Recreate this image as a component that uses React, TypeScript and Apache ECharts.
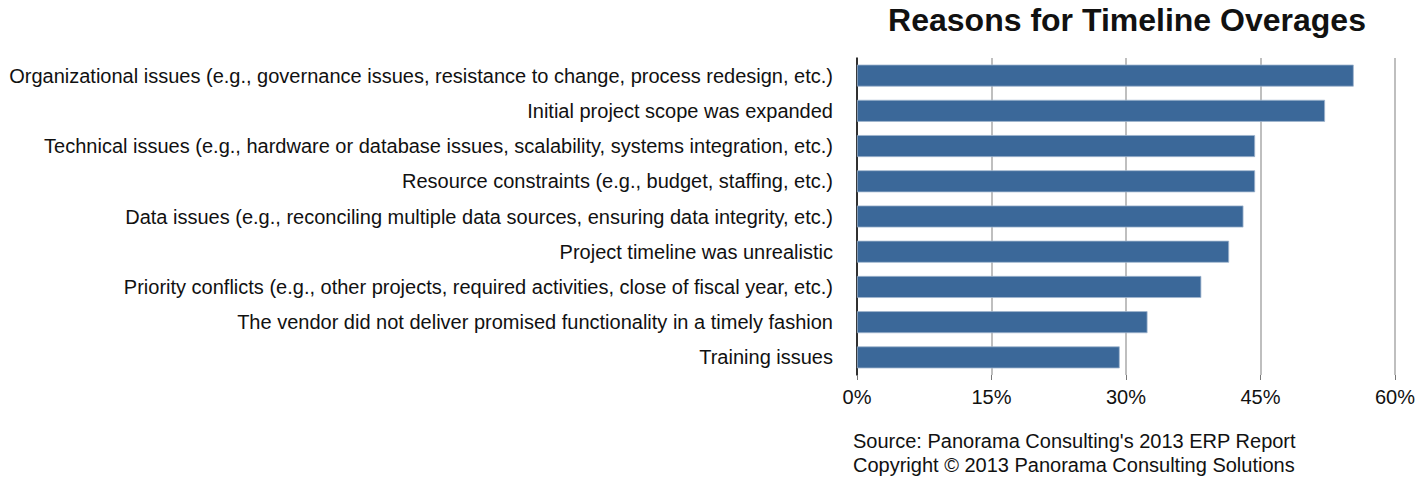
import React, { useEffect, useRef } from "react";
import * as echarts from "echarts";

const categories = [
  "Organizational issues (e.g., governance issues, resistance to change, process redesign, etc.)",
  "Initial project scope was expanded",
  "Technical issues (e.g., hardware or database issues, scalability, systems integration, etc.)",
  "Resource constraints (e.g., budget, staffing, etc.)",
  "Data issues (e.g., reconciling multiple data sources, ensuring data integrity, etc.)",
  "Project timeline was unrealistic",
  "Priority conflicts (e.g., other projects, required activities, close of fiscal year, etc.)",
  "The vendor did not deliver promised functionality in a timely fashion",
  "Training issues",
];
const values = [55.4, 52.2, 44.4, 44.4, 43.1, 41.5, 38.4, 32.4, 29.3];
const xTicks = [0, 15, 30, 45, 60];
const titleText = "Reasons for Timeline Overages";
const sourceLines = [
  "Source: Panorama Consulting's 2013 ERP Report",
  "Copyright © 2013 Panorama Consulting Solutions",
];

const FONT = "'Liberation Sans', Arial, Helvetica, sans-serif";

export default function App() {
  const ref = useRef<HTMLDivElement>(null);
  useEffect(() => {
    if (!ref.current) return;
    const chart = echarts.init(ref.current, undefined, { renderer: "svg" });
    chart.setOption({
      animation: false,
      backgroundColor: "#ffffff",
      title: {
        text: titleText,
        left: 1127,
        textAlign: "center",
        top: 6,
        padding: 0,
        textStyle: { fontFamily: FONT, fontSize: 32, lineHeight: 28, fontWeight: "bold", color: "#111" },
      },
      graphic: sourceLines.map((t, i) => ({
        type: "text",
        left: 853,
        top: 431 + i * 24,
        style: { text: t, font: `20px ${FONT}`, fill: "#111" },
      })),
      grid: { left: 857, right: 21, top: 58, bottom: 102, containLabel: false },
      xAxis: {
        type: "value",
        min: xTicks[0],
        max: xTicks[xTicks.length - 1],
        interval: 15,
        axisLine: { show: false },
        axisTick: { show: true, length: 5, lineStyle: { color: "#777" } },
        splitLine: { show: true, lineStyle: { color: "#aaa", width: 1.5 } },
        axisLabel: {
          formatter: (v: number) => `${v}%`,
          fontFamily: FONT,
          fontSize: 20,
          color: "#111",
          margin: 12,
        },
      },
      yAxis: {
        type: "category",
        data: categories,
        inverse: true,
        axisLine: { show: true, lineStyle: { color: "#000", width: 1.5 } },
        axisTick: { show: false },
        axisLabel: { fontFamily: FONT, fontSize: 20, color: "#111", margin: 24 },
      },
      series: [
        {
          type: "bar",
          data: values,
          barWidth: 22,
          itemStyle: { color: "#3b6899", borderColor: "#9fb5ce", borderWidth: 0.8 },
        },
      ],
    });
    return () => chart.dispose();
  }, []);
  return (
    <div
      ref={ref}
      style={{ position: "absolute", left: 0, top: 0, width: 1418, height: 477 }}
    />
  );
}
